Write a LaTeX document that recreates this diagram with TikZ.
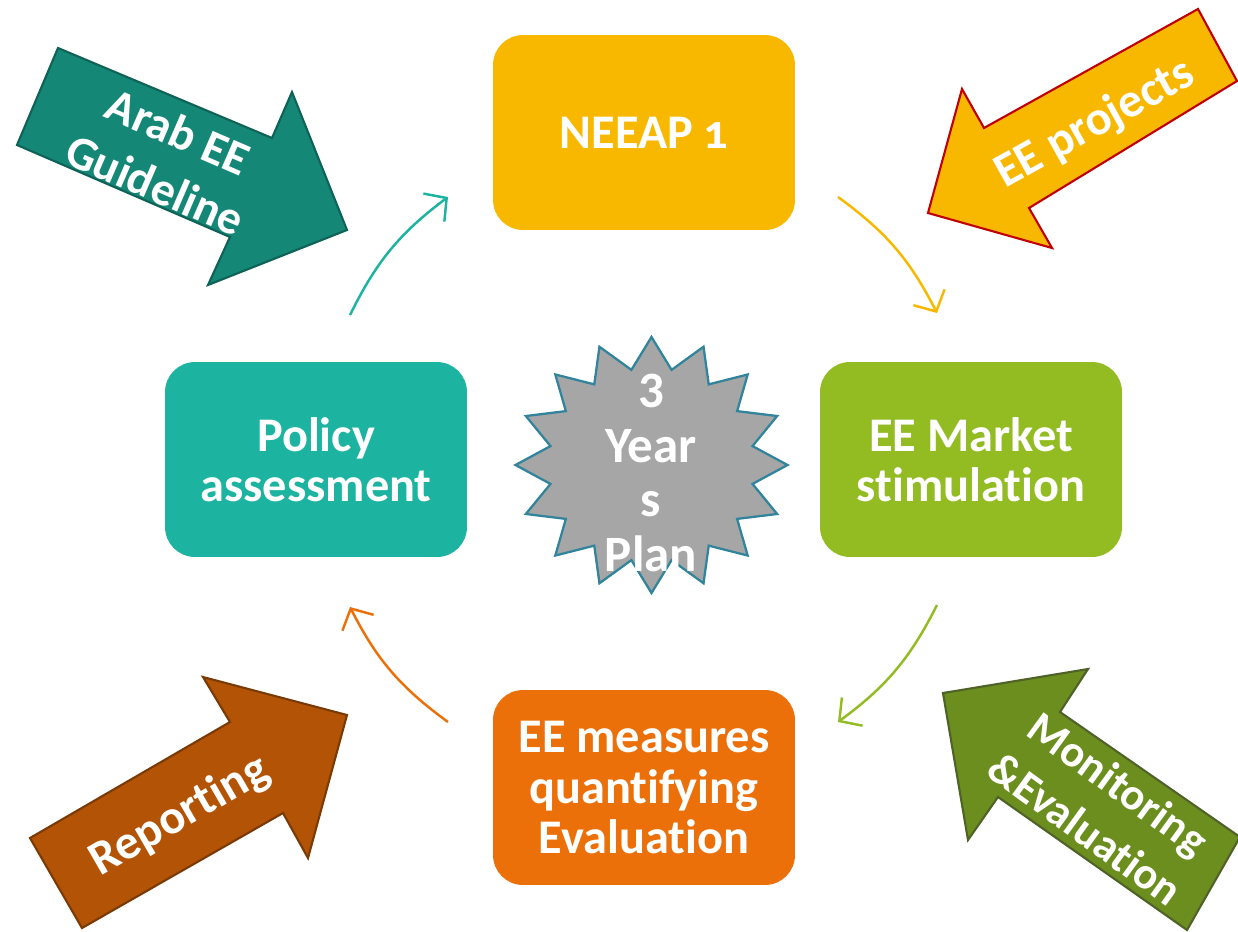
\documentclass[tikz,border=0pt]{standalone}
\usepackage{fontspec}
\setmainfont{Carlito}[Ligatures=NoCommon]
\usetikzlibrary{arrows.meta}
\definecolor{amber}{HTML}{F9B800}
\definecolor{leaf}{HTML}{92BC22}
\definecolor{flame}{HTML}{EC700A}
\definecolor{aqua}{HTML}{1CB4A0}
\definecolor{pine}{HTML}{148776}
\definecolor{pineline}{HTML}{0F6356}
\definecolor{rust}{HTML}{B35306}
\definecolor{rustline}{HTML}{7A3A06}
\definecolor{olive}{HTML}{6B8E1E}
\definecolor{oliveline}{HTML}{4F6228}
\definecolor{crimson}{HTML}{C00000}
\definecolor{stargray}{HTML}{A6A6A6}
\definecolor{starline}{HTML}{31849B}
\tikzset{
  txt/.style={text=white, font=\bfseries\fontsize{27.5}{28.5}\selectfont, align=center, inner sep=0pt},
  wide/.style={txt, font=\bfseries\fontsize{27}{33}\selectfont},
  stepbox/.style={txt, rounded corners=0.6cm, minimum width=6.04cm, minimum height=3.9cm},
  cyc/.style={line width=1.4pt, -{Straight Barb[length=3.2mm,width=7mm,line width=1.4pt]}},
  blockarrow/.style={line width=1.2pt, line join=miter},
}
\begin{document}
\begin{tikzpicture}[x=0.02cm,y=0.02cm]
\useasboundingbox (0,0) rectangle (1238,-931);

% four stage boxes
\node[stepbox, fill=amber] (neeap) at (644,-132.5) {NEEAP {\addfontfeature{Numbers=OldStyle}1}};
\node[stepbox, fill=leaf]  (market) at (971,-459.5) {EE Market\\stimulation};
\node[stepbox, fill=flame] (measures) at (644,-787.5) {EE measures\\quantifying\\Evaluation};
\node[stepbox, fill=aqua]  (policy) at (316,-459.5) {Policy\\assessment};

% cycle connectors
\coordinate (p1s) at (350,-315);
\coordinate (p1e) at (448,-197);
\coordinate (p2s) at (838,-197);
\coordinate (p2e) at (937,-313);
\coordinate (p3s) at (937,-605);
\coordinate (p3e) at (838,-722);
\coordinate (p4s) at (448,-722);
\coordinate (p4e) at (350,-607);
\draw[cyc, aqua]  (p1s) to[bend left=13.5] (p1e);
\draw[cyc, amber] (p2s) to[bend left=13.5] (p2e);
\draw[cyc, leaf]  (p3s) to[bend left=13.5] (p3e);
\draw[cyc, flame] (p4s) to[bend left=13.5] (p4e);

% central star
\draw[fill=stargray, draw=starline, line width=1.3pt, line join=miter]
  plot[samples at={0,...,31}, variable=\k]
  ({651.5+ifthenelse(mod(\k,2)==0,136,103)*cos(90+11.25*\k)},
   {-465+ifthenelse(mod(\k,2)==0,128,97)*sin(90+11.25*\k)}) -- cycle;
\node[txt, font=\bfseries\fontsize{29}{31.2}\selectfont] (plan) at (651,-473) {3\\Year\\s\\Plan};

% input arrows
\draw[blockarrow, fill=pine, draw=pineline]
  (58,-48) -- (272,-138) -- (292,-92) -- (347,-230) -- (208,-285) -- (230,-237) -- (17,-145) -- cycle;
\node[wide, rotate=-23.4] (guide) at (167,-158) {Arab EE\\Guideline};

\draw[blockarrow, fill=amber, draw=crimson]
  (1198,-9) -- (1237,-81) -- (1029,-208) -- (1052,-248) -- (928,-213) -- (962,-89) -- (984,-128) -- cycle;
\node[txt, rotate=29] (projects) at (1095,-124) {EE projects};

\draw[blockarrow, fill=rust, draw=rustline]
  (30,-838) -- (230,-722) -- (203,-677) -- (347,-715) -- (308,-858) -- (283,-813) -- (82,-928) -- cycle;
\node[txt, rotate=30] (report) at (180,-816) {Reporting};

\draw[blockarrow, fill=olive, draw=oliveline]
  (1088,-669) -- (1060,-712) -- (1240,-837) -- (1187,-930) -- (998,-797) -- (968,-840) -- (943,-693) -- cycle;
\node[wide, font=\bfseries\fontsize{25.5}{32}\selectfont, rotate=-36] (monitor) at (1102,-806) {Monitoring\\\&Evaluation};
\end{tikzpicture}
\end{document}
